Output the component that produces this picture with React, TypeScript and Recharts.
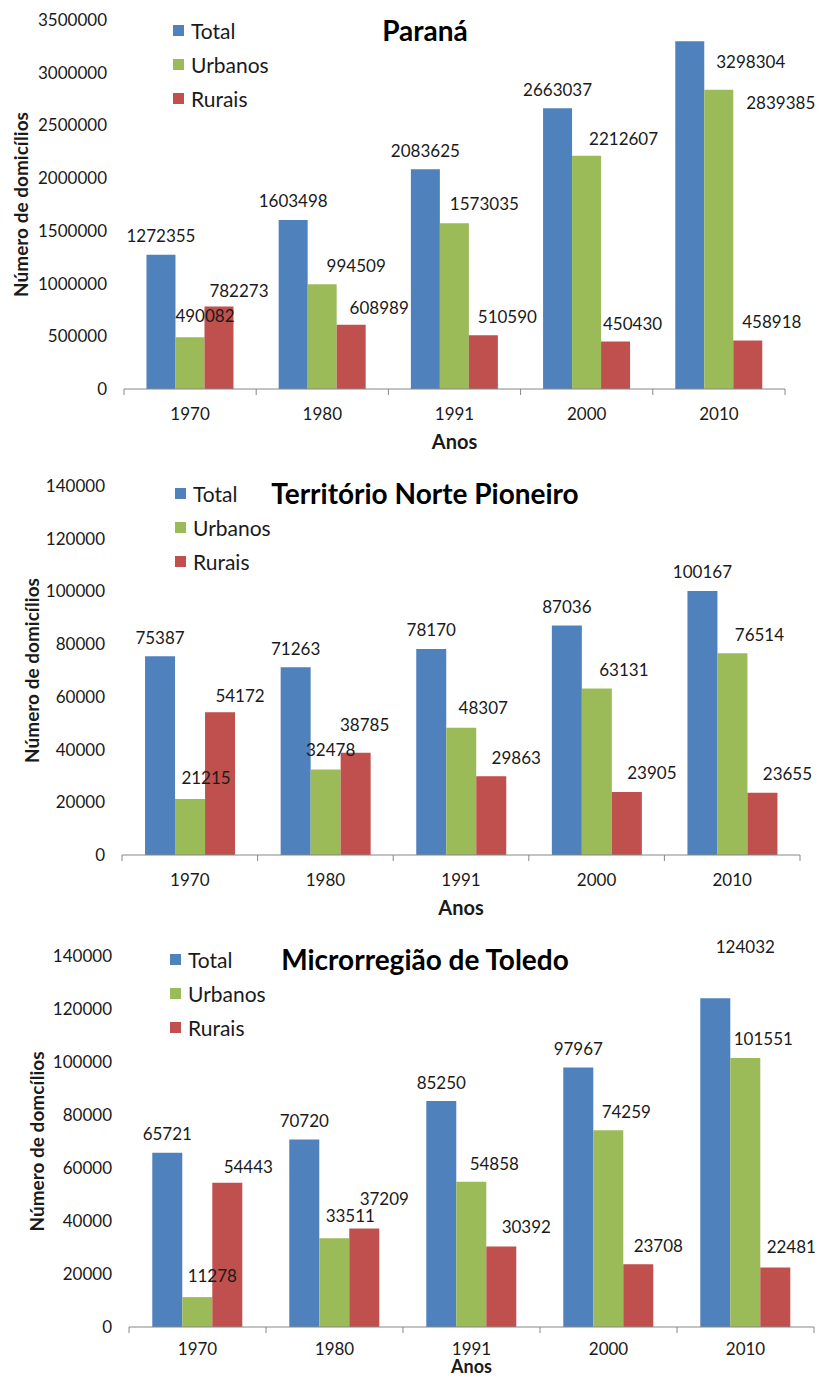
import React from "react"
import { Bar, BarChart, LabelList, XAxis, YAxis } from "recharts"

const years = ["1970", "1980", "1991", "2000", "2010"]

const paranaTotal = [1272355, 1603498, 2083625, 2663037, 3298304]
const paranaUrbanos = [490082, 994509, 1573035, 2212607, 2839385]
const paranaRurais = [782273, 608989, 510590, 450430, 458918]

const norteTotal = [75387, 71263, 78170, 87036, 100167]
const norteUrbanos = [21215, 32478, 48307, 63131, 76514]
const norteRurais = [54172, 38785, 29863, 23905, 23655]

const toledoTotal = [65721, 70720, 85250, 97967, 124032]
const toledoUrbanos = [11278, 33511, 54858, 74259, 101551]
const toledoRurais = [54443, 37209, 30392, 23708, 22481]

const paranaTicks = [0, 500000, 1000000, 1500000, 2000000, 2500000, 3000000, 3500000]
const smallTicks = [0, 20000, 40000, 60000, 80000, 100000, 120000, 140000]

const SERIES = [
  { key: "Total", color: "#4F81BD" },
  { key: "Urbanos", color: "#9BBB59" },
  { key: "Rurais", color: "#C0504D" },
]

const FONT = "Lato, 'Open Sans', sans-serif"
const TEXT = "#1a1a1a"

type Shift = [number, number]

function buildRows(total: number[], urbanos: number[], rurais: number[]) {
  return years.map((year, i) => ({
    year,
    Total: total[i],
    Urbanos: urbanos[i],
    Rurais: rurais[i],
  }))
}

type PanelProps = {
  title: string
  yLabel: string
  rows: ReturnType<typeof buildRows>
  ticks: number[]
  top: number
  height: number
  plotTop: number
  plotBottom: number
  plotLeft: number
  plotRight: number
  yLabelX: number
  tickGap: number
  anosGap: number
  anosSize: number
  legendLeft: number
  legendTop: number
  // label position relative to the bar's top centre: per series, then per bar
  baseShift: Record<string, Shift>
  shifts?: Record<string, Shift>
}

function Panel(p: PanelProps) {
  const halfBand = (p.plotRight - p.plotLeft) / years.length / 2
  const axisHeight = 40
  const marginBottom = p.height - (p.plotBottom - p.top) - axisHeight

  const renderTick = (props: any) => {
    const { x, y, payload, index } = props
    return (
      <g>
        <line x1={x - halfBand} y1={y} x2={x - halfBand} y2={y + 6} stroke="#868686" />
        {index === years.length - 1 && (
          <line x1={x + halfBand} y1={y} x2={x + halfBand} y2={y + 6} stroke="#868686" />
        )}
        <text x={x} y={y + p.tickGap} textAnchor="middle" dominantBaseline="central" fontSize={17} fill={TEXT} fontFamily={FONT}>
          {payload.value}
        </text>
      </g>
    )
  }

  const makeLabel = (series: string) => (props: any) => {
    const { x, y, width, value, index } = props
    const [dx, dy] = p.shifts?.[`${series}:${index}`] ?? p.baseShift[series]
    return (
      <text
        x={Number(x) + Number(width) / 2 + dx}
        y={Number(y) + dy}
        textAnchor="middle"
        dominantBaseline="central"
        fontSize={17}
        fill={TEXT}
        fontFamily={FONT}
      >
        {value}
      </text>
    )
  }

  return (
    <div style={{ position: "absolute", left: 0, top: p.top, width: 820, height: p.height }}>
      <BarChart
        width={820}
        height={p.height}
        data={p.rows}
        barCategoryGap="17%"
        barGap={0}
        margin={{ top: p.plotTop - p.top, right: 820 - p.plotRight, left: 0, bottom: marginBottom }}
      >
        <XAxis
          dataKey="year"
          height={axisHeight}
          tickLine={false}
          tickSize={0}
          tickMargin={0}
          axisLine={{ stroke: "#868686" }}
          tick={renderTick}
          interval={0}
          label={{
            value: "Anos",
            content: ({ viewBox }: any) => (
              <text
                x={viewBox.x + viewBox.width / 2}
                y={p.plotBottom - p.top + p.anosGap}
                textAnchor="middle"
                dominantBaseline="central"
                fontSize={p.anosSize}
                fontWeight={700}
                fill={TEXT}
                fontFamily={FONT}
              >
                Anos
              </text>
            ),
          }}
        />
        <YAxis
          width={p.plotLeft}
          domain={[p.ticks[0], p.ticks[p.ticks.length - 1]]}
          ticks={p.ticks}
          interval={0}
          axisLine={false}
          tickLine={false}
          tickSize={0}
          tickMargin={17}
          tick={{ fontSize: 17, fill: TEXT, fontFamily: FONT }}
          label={{
            value: p.yLabel,
            content: ({ viewBox }: any) => {
              const cy = viewBox.y + viewBox.height / 2
              return (
                <text
                  x={p.yLabelX}
                  y={cy}
                  transform={`rotate(-90, ${p.yLabelX}, ${cy})`}
                  textAnchor="middle"
                  dominantBaseline="central"
                  fontSize={19}
                  fontWeight={700}
                  fill={TEXT}
                  fontFamily={FONT}
                >
                  {p.yLabel}
                </text>
              )
            },
          }}
        />
        {SERIES.map((s) => (
          <Bar key={s.key} dataKey={s.key} fill={s.color} isAnimationActive={false}>
            <LabelList dataKey={s.key} content={makeLabel(s.key)} />
          </Bar>
        ))}
      </BarChart>

      <div
        style={{
          position: "absolute",
          left: 425,
          top: p.legendTop - 17 - p.top,
          transform: "translateX(-50%)",
          whiteSpace: "nowrap",
          fontFamily: FONT,
          fontWeight: 700,
          fontSize: 28,
          lineHeight: "34px",
          color: "#000",
        }}
      >
        {p.title}
      </div>

      <div style={{ position: "absolute", left: p.legendLeft, top: p.legendTop - 17 - p.top, fontFamily: FONT }}>
        {SERIES.map((s) => (
          <div key={s.key} style={{ display: "flex", alignItems: "center", height: 34 }}>
            <span style={{ width: 11, height: 11, background: s.color, display: "inline-block", marginRight: 7 }} />
            <span style={{ fontSize: 21, color: TEXT }}>{s.key}</span>
          </div>
        ))}
      </div>
    </div>
  )
}

export default function App() {
  return (
    <div style={{ position: "absolute", left: 0, top: 0, width: 820, height: 1378, background: "#fff" }}>
      <Panel
        title="Paraná"
        yLabel="Número de domicílios"
        rows={buildRows(paranaTotal, paranaUrbanos, paranaRurais)}
        ticks={paranaTicks}
        top={0}
        height={465}
        plotTop={20}
        plotBottom={389}
        plotLeft={124}
        plotRight={785}
        yLabelX={20}
        tickGap={24}
        anosGap={52}
        anosSize={20}
        legendLeft={173}
        legendTop={30}
        baseShift={{ Total: [0, -19], Urbanos: [30, -20], Rurais: [24, -19] }}
        shifts={{
          "Urbanos:0": [15, -22],
          "Rurais:0": [20, -16],
          "Urbanos:1": [34, -19],
          "Rurais:1": [28, -17],
          "Urbanos:3": [37, -17],
          "Rurais:3": [17, -18],
          "Total:4": [61, 20],
          "Urbanos:4": [62, 13],
        }}
      />
      <Panel
        title="Território Norte Pioneiro"
        yLabel="Número de domicílios"
        rows={buildRows(norteTotal, norteUrbanos, norteRurais)}
        ticks={smallTicks}
        top={465}
        height={470}
        plotTop={486}
        plotBottom={855}
        plotLeft={122}
        plotRight={800}
        yLabelX={31}
        tickGap={24}
        anosGap={52}
        anosSize={20}
        legendLeft={175}
        legendTop={493}
        baseShift={{ Total: [0, -19], Urbanos: [27, -19], Rurais: [25, -19] }}
        shifts={{
          "Urbanos:0": [16, -22],
          "Rurais:0": [20, -17],
          "Urbanos:1": [5, -20],
          "Rurais:1": [9, -28],
          "Urbanos:2": [22, -20],
        }}
      />
      <Panel
        title="Microrregião de Toledo"
        yLabel="Número de domcílios"
        rows={buildRows(toledoTotal, toledoUrbanos, toledoRurais)}
        ticks={smallTicks}
        top={935}
        height={443}
        plotTop={956}
        plotBottom={1327}
        plotLeft={129}
        plotRight={814}
        yLabelX={36}
        tickGap={21}
        anosGap={39}
        anosSize={18}
        legendLeft={170}
        legendTop={959}
        baseShift={{ Total: [0, -19], Urbanos: [18, -19], Rurais: [20, -19] }}
        shifts={{
          "Urbanos:0": [15, -22],
          "Rurais:0": [21, -16],
          "Urbanos:1": [16, -23],
          "Rurais:1": [20, -30],
          "Urbanos:2": [23, -18],
          "Rurais:2": [25, -20],
          "Total:4": [30, -52],
          "Rurais:4": [16, -21],
        }}
      />
    </div>
  )
}
